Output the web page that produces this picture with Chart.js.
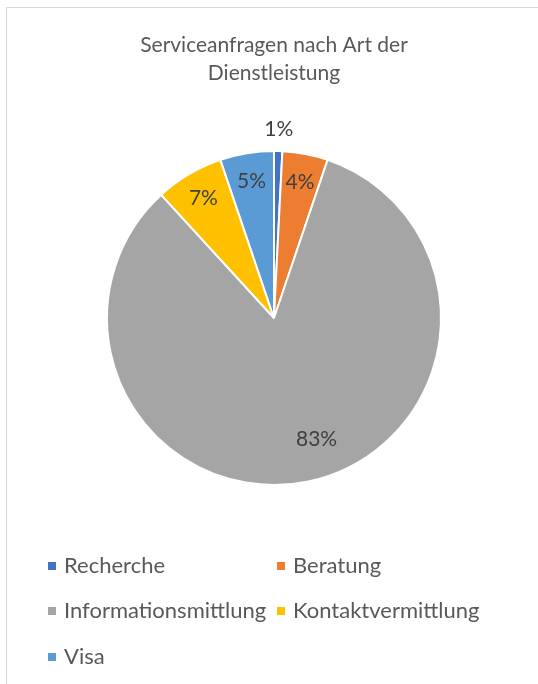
<!DOCTYPE html>
<html>
<head>
<meta charset="utf-8">
<script src="https://cdn.jsdelivr.net/npm/chart.js@4/dist/chart.umd.min.js"></script>
<style>
    html, body { margin: 0; padding: 0; background: #fff; overflow: hidden; }
    #wrap { position: relative; width: 538px; height: 684px; overflow: hidden; }
    #frame { position: absolute; left: 6px; top: 7px; width: 600px; height: 700px; border: 1px solid #d9d9d9; box-sizing: border-box; }
    #pie { position: absolute; left: 0; top: 0; }
    .legend { position: absolute; font-family: Lato, sans-serif; font-size: 22px; color: #595959; white-space: nowrap; line-height: 22px; }
    .legend span.box { display: inline-block; width: 8px; height: 8px; margin-right: 8px; vertical-align: 3px; }
</style>
</head>
<body>
<div id="wrap">
    <div id="frame"></div>
    <canvas id="pie" width="538" height="684"></canvas>
    <div id="legend"></div>
</div>
<script>
// Anteil der Serviceanfragen in Prozent
const categories = ['Recherche', 'Beratung', 'Informationsmittlung', 'Kontaktvermittlung', 'Visa'];
const shares = [0.8, 4.4, 83.0, 6.6, 5.2];
const colors = ['#4472C4', '#ED7D31', '#A5A5A5', '#FFC000', '#5B9BD5'];
const titleLines = ['Serviceanfragen nach Art der', 'Dienstleistung'];

const fontFamily = 'Lato, sans-serif';

// simple percentage labels, drawn on the arcs (no datalabels plugin offline)
const pctLabels = {
    id: 'pctLabels',
    afterDatasetsDraw(chart) {
        const ctx = chart.ctx;
        const meta = chart.getDatasetMeta(0);
        const data = chart.data.datasets[0].data;
        const total = data.reduce((a, b) => a + b, 0);
        ctx.save();
        ctx.font = '21px ' + fontFamily;
        ctx.fillStyle = '#404040';
        ctx.textAlign = 'center';
        ctx.textBaseline = 'middle';
        meta.data.forEach((arc, i) => {
            const p = arc.getProps(['x', 'y', 'startAngle', 'endAngle', 'outerRadius']);
            const pct = data[i] / total * 100;
            let mid = (p.startAngle + p.endAngle) / 2;
            let f = 0.83;
            if (pct > 50) { f = 0.77; mid -= 0.13; }   // best-fit style for the big slice
            if (pct < 2) f = 1.13;
            const x = p.x + Math.cos(mid) * p.outerRadius * f;
            const y = p.y + Math.sin(mid) * p.outerRadius * f;
            ctx.fillText(Math.round(pct) + '%', x, y);
        });
        ctx.restore();
    }
};

const chart = new Chart(document.getElementById('pie').getContext('2d'), {
    type: 'pie',
    data: {
        labels: categories,
        datasets: [{
            data: shares,
            backgroundColor: colors,
            borderColor: '#ffffff',
            borderWidth: 2,
            hoverOffset: 0
        }]
    },
    options: {
        responsive: false,
        devicePixelRatio: 1,
        animation: false,
        layout: {
            padding: { left: 106, right: 96, top: 0, bottom: 198 }
        },
        plugins: {
            legend: { display: false },
            tooltip: { enabled: false },
            title: {
                display: true,
                text: titleLines,
                color: '#595959',
                font: { family: fontFamily, size: 21, weight: 'normal', lineHeight: 28 / 21 },
                padding: { top: 31, bottom: 63 }
            }
        }
    },
    plugins: [pctLabels]
});

// legend in two columns, like the original
const legendEl = document.getElementById('legend');
const legendPos = [[48, 554], [277, 554], [48, 599], [277, 599], [48, 645]];
chart.data.labels.forEach((label, i) => {
    const item = document.createElement('div');
    item.className = 'legend';
    item.style.left = legendPos[i][0] + 'px';
    item.style.top = legendPos[i][1] + 'px';
    item.innerHTML = '<span class="box" style="background:' + colors[i] + '"></span>' + label;
    legendEl.appendChild(item);
});
</script>
</body>
</html>
